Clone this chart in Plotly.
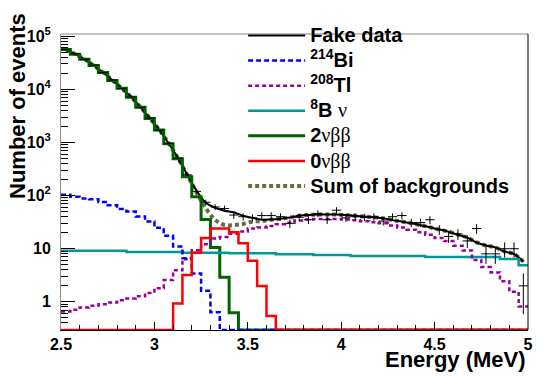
import numpy as np
import plotly.graph_objects as go

# Energy binning: 50 bins of 0.05 MeV between 2.5 and 5.0 MeV
e_min, e_max, n_bins = 2.5, 5.0, 50

# Expected counts per bin
two_nu = [56200, 45800, 36800, 27900, 20700, 14700, 10400, 7110, 4580, 2830,
          1710, 948, 491, 225, 94.8, 35.3, 10.5, 2.91, 0.62, 0,
          0, 0, 0, 0, 0, 0, 0, 0, 0, 0,
          0, 0, 0, 0, 0, 0, 0, 0, 0, 0,
          0, 0, 0, 0, 0, 0, 0, 0, 0, 0]
bi214 = [103, 94.8, 88.4, 84.8, 75.9, 65.5, 55.6, 50.3, 40.5, 32.5,
         24.7, 17.6, 11.0, 6.63, 3.43, 1.62, 0.64, 0, 0, 0,
         0, 0, 0, 0, 0, 0, 0, 0, 0, 0,
         0, 0, 0, 0, 0, 0, 0, 0, 0, 0,
         0, 0, 0, 0, 0, 0, 0, 0, 0, 0]
tl208 = [0.66, 0.71, 0.78, 0.84, 0.90, 0.97, 1.07, 1.15, 1.28, 1.47,
         1.81, 2.57, 3.93, 6.36, 9.32, 12.1, 15.5, 16.6, 19.1, 21.0,
         24.0, 25.0, 26.8, 28.8, 30.7, 33.9, 35.3, 36.2, 36.2, 36.2,
         35.3, 34.3, 33.0, 31.6, 30.0, 27.2, 25.0, 22.8, 20.4, 18.3,
         15.9, 13.9, 11.3, 9.2, 6.1, 4.5, 3.58, 2.44, 1.55, 0.82]
b8_nu = [9.1, 9.1, 9.1, 9.1, 9.1, 9.1, 9.1, 8.7, 8.7, 8.7,
         8.7, 8.7, 8.7, 8.4, 8.4, 8.4, 8.4, 8.4, 8.2, 8.2,
         8.2, 8.2, 8.2, 7.9, 7.9, 7.9, 7.9, 7.6, 7.6, 7.6,
         7.6, 7.3, 7.3, 7.3, 7.3, 7.3, 7.3, 7.3, 7.3, 7.0,
         7.0, 7.0, 7.0, 7.0, 7.0, 7.0, 7.0, 6.4, 6.4, 4.9]
zero_nu = [0, 0, 0, 0, 0, 0, 0, 0, 0, 0,
           0, 0, 0.93, 3.2, 8.4, 15.9, 24.0, 24.0, 20.4, 12.6,
           5.93, 1.99, 0.54, 0, 0, 0, 0, 0, 0, 0,
           0, 0, 0, 0, 0, 0, 0, 0, 0, 0,
           0, 0, 0, 0, 0, 0, 0, 0, 0, 0]
fake_data = [55800, 46300, 36500, 28300, 20500, 14900, 10300, 7200, 4550, 2880,
             1690, 960, 505, 245, 120, 75, 61, 57, 43, 40,
             38, 42, 42, 40, 30, 39, 35, 46, 35, 53,
             38, 40, 39, 40, 33, 40, 42, 31, 31, 35,
             23, 17, 19, 14, 24, 8, 8, 10, 10, 2]

y_ticks = [1, 10, 100, 1e3, 1e4, 1e5]
y_tick_text = ["1", "10", "10<sup>2</sup>", "10<sup>3</sup>", "10<sup>4</sup>", "10<sup>5</sup>"]
x_ticks = [2.5, 3, 3.5, 4, 4.5, 5]
x_tick_text = ["2.5", "3", "3.5", "4", "4.5", "5"]

y_range = [-0.53, 5.04]
y_floor = 10 ** y_range[0]

edges = np.linspace(e_min, e_max, n_bins + 1)
centers = 0.5 * (edges[:-1] + edges[1:])

sum_bkg = np.array(two_nu) + np.array(bi214) + np.array(tl208) + np.array(b8_nu)
total = sum_bkg + np.array(zero_nu)


def step(vals):
    # ROOT-like histogram outline; empty bins sit on the bottom of the frame
    v = np.asarray(vals, dtype=float)
    v = np.where(v > 0, v, y_floor)
    return edges, np.append(v, v[-1])


FONT = "Liberation Sans"
greek = "<span style='font-family:Liberation Serif;font-weight:normal'>%s</span>"


def big(s):
    # legend rows keep the 17px spacing, the text itself is drawn at 20px
    return "<span style='font-size:20px'>" + s + "</span>"


fig = go.Figure()

fig.add_trace(go.Scatter(x=centers, y=sum_bkg, mode="lines", name=big("Sum of backgrounds"),
                         line=dict(color="#6b6b3e", width=4, dash="4px,3px", shape="spline"),
                         legendrank=7))
fig.add_trace(go.Scatter(x=centers, y=total, mode="lines", name=big("Fake data"),
                         line=dict(color="black", width=2, shape="spline"), legendrank=1))
x, y = step(two_nu)
fig.add_trace(go.Scatter(x=x, y=y, mode="lines", name=big("2" + greek % "νββ"),
                         line=dict(color="#006400", width=3, shape="hv"), legendrank=5))
x, y = step(b8_nu)
fig.add_trace(go.Scatter(x=x, y=y, mode="lines", name=big("<sup>8</sup>B " + greek % "ν"),
                         line=dict(color="#009999", width=2.5, shape="hv"), legendrank=4))
x, y = step(tl208)
fig.add_trace(go.Scatter(x=x, y=y, mode="lines", name=big("<sup>208</sup>Tl"),
                         line=dict(color="#990099", width=2.5, dash="4px,3px", shape="hv"),
                         legendrank=3))
x, y = step(bi214)
fig.add_trace(go.Scatter(x=x, y=y, mode="lines", name=big("<sup>214</sup>Bi"),
                         line=dict(color="#0000ff", width=2.5, dash="5px,3px", shape="hv"),
                         legendrank=2))
x, y = step(zero_nu)
fig.add_trace(go.Scatter(x=x, y=y, mode="lines", name=big("0" + greek % "νββ"),
                         line=dict(color="#ff0000", width=2.5, shape="hv"), legendrank=6))

# data points as crosses (bin width x sqrt(N))
fig.add_trace(go.Scatter(x=centers, y=fake_data, mode="markers", showlegend=False,
                         marker=dict(size=1, color="black"),
                         error_x=dict(type="constant", value=(e_max - e_min) / n_bins / 2,
                                      width=0, thickness=1, color="black"),
                         error_y=dict(type="data", array=np.sqrt(fake_data),
                                      width=0, thickness=1, color="black")))

# the page body adds an 8px offset, so the figure is 8px smaller than the window
fig.update_layout(
    width=540, height=369,
    margin=dict(l=53, r=20, t=10, b=47),
    paper_bgcolor="white", plot_bgcolor="white",
    font=dict(family=FONT, size=16, color="black"),
    legend=dict(x=0.39, y=0.426, xanchor="left", yanchor="bottom",
                bgcolor="rgba(0,0,0,0)", itemwidth=57, tracegroupgap=0,
                font=dict(family=FONT, size=17, weight="bold")),
    xaxis=dict(range=[e_min, e_max], tickvals=x_ticks, ticktext=x_tick_text,
               ticks="inside", ticklen=8, tickcolor="black", showgrid=False,
               zeroline=False, showline=True, linecolor="black", linewidth=1,
               tickfont=dict(family=FONT, size=16, weight="bold"),
               ticklabelstandoff=0,
               minor=dict(dtick=0.1, ticks="inside", ticklen=5, tickcolor="black")),
    yaxis=dict(type="log", range=y_range, tickvals=y_ticks, ticktext=y_tick_text,
               ticks="inside", ticklen=14, tickcolor="black", showgrid=False,
               zeroline=False, showline=True, linecolor="#888888", linewidth=1,
               tickfont=dict(family=FONT, size=16, weight="bold"),
               ticklabelstandoff=6,
               minor=dict(tickvals=[k * 10 ** d for d in range(-1, 5) for k in range(2, 10)],
                          ticks="inside", ticklen=7, tickcolor="black")),
    shapes=[dict(type="line", xref="paper", yref="paper", x0=0, x1=1, y0=1, y1=1,
                 line=dict(color="#888888", width=1)),
            dict(type="line", xref="paper", yref="paper", x0=1, x1=1, y0=0, y1=1,
                 line=dict(color="black", width=1))],
    annotations=[
        dict(text="Number of events", xref="paper", yref="paper", x=0, y=1,
             xanchor="center", yanchor="top", xshift=-44, yshift=23, textangle=-90,
             showarrow=False, font=dict(family=FONT, size=22, weight="bold")),
        dict(text="Energy (MeV)", xref="paper", yref="paper", x=1, y=0,
             xanchor="right", yanchor="middle", yshift=-29,
             showarrow=False, font=dict(family=FONT, size=22, weight="bold")),
    ],
)

fig.write_html("out.html")
